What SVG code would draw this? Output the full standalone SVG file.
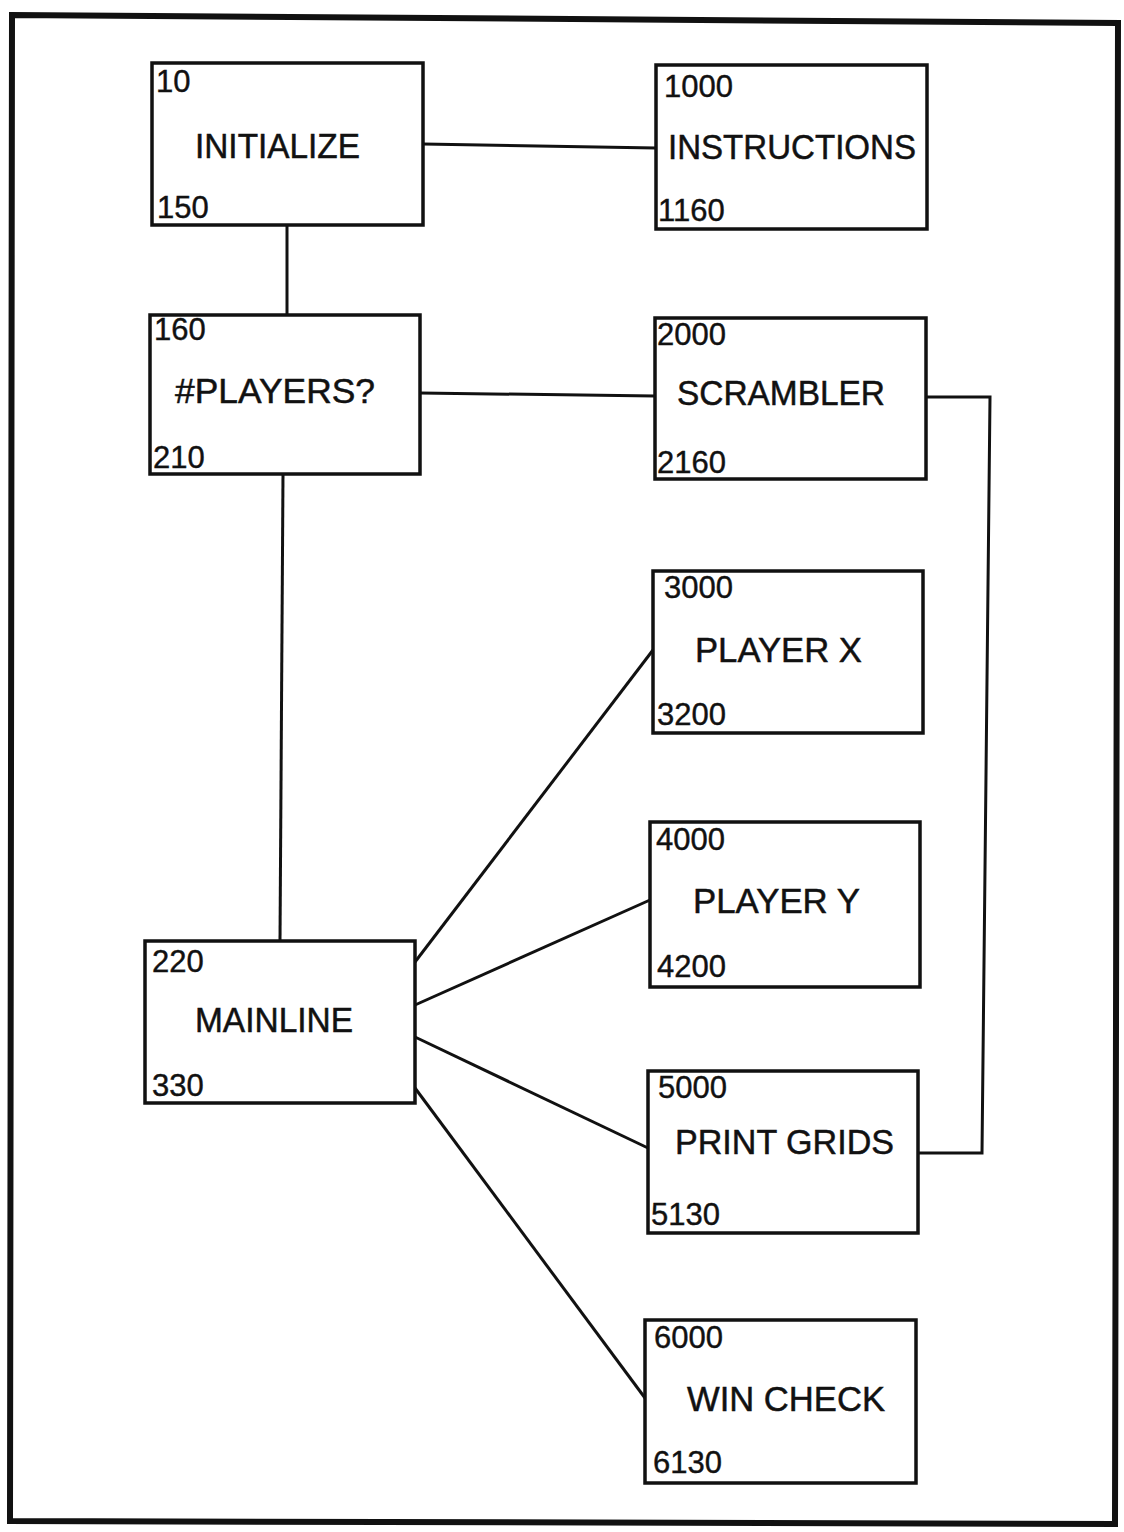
<svg xmlns="http://www.w3.org/2000/svg" width="1124" height="1532" viewBox="0 0 1124 1532">
<style>
.box{fill:#fff;stroke:#111;stroke-width:3.5}
.num{font-family:"Liberation Sans",Arial,sans-serif;font-size:31px;fill:#111;stroke:#111;stroke-width:0.4}
.lbl{font-family:"Liberation Sans",Arial,sans-serif;font-size:35px;fill:#111;stroke:#111;stroke-width:0.5}
.con{fill:none;stroke:#111;stroke-width:3}
</style>
<rect width="1124" height="1532" fill="#fff"/>
<polygon points="12,15 1118,23 1115,1524 10,1521" fill="none" stroke="#111" stroke-width="6"/>
<g id="connectors">
<line class="con" x1="423" y1="144" x2="656" y2="148"/>
<line class="con" x1="287" y1="225" x2="287" y2="315"/>
<line class="con" x1="420" y1="393" x2="655" y2="396"/>
<line class="con" x1="283" y1="474" x2="280" y2="941"/>
<polyline class="con" points="926,397 990,397 982,1153 918,1153"/>
<line class="con" x1="415" y1="962" x2="653" y2="650"/>
<line class="con" x1="415" y1="1005" x2="650" y2="900"/>
<line class="con" x1="415" y1="1037" x2="648" y2="1148"/>
<line class="con" x1="415" y1="1088" x2="645" y2="1398"/>
</g>
<g id="initialize">
<rect class="box" x="152" y="63" width="271" height="162"/>
<text class="num" x="156" y="92">10</text>
<text class="lbl" x="195" y="158" textLength="165" lengthAdjust="spacingAndGlyphs">INITIALIZE</text>
<text class="num" x="157" y="218">150</text>
</g>
<g id="instructions">
<rect class="box" x="656" y="65" width="271" height="164"/>
<text class="num" x="664" y="97">1000</text>
<text class="lbl" x="668" y="159" textLength="248" lengthAdjust="spacingAndGlyphs">INSTRUCTIONS</text>
<text class="num" x="658" y="221">1160</text>
</g>
<g id="players">
<rect class="box" x="150" y="315" width="270" height="159"/>
<text class="num" x="154" y="340">160</text>
<text class="lbl" x="175" y="403" textLength="200" lengthAdjust="spacingAndGlyphs">#PLAYERS?</text>
<text class="num" x="153" y="468">210</text>
</g>
<g id="scrambler">
<rect class="box" x="655" y="318" width="271" height="161"/>
<text class="num" x="657" y="345">2000</text>
<text class="lbl" x="677" y="405" textLength="208" lengthAdjust="spacingAndGlyphs">SCRAMBLER</text>
<text class="num" x="657" y="473">2160</text>
</g>
<g id="playerx">
<rect class="box" x="653" y="571" width="270" height="162"/>
<text class="num" x="664" y="598">3000</text>
<text class="lbl" x="695" y="662" textLength="167" lengthAdjust="spacingAndGlyphs">PLAYER X</text>
<text class="num" x="657" y="725">3200</text>
</g>
<g id="playery">
<rect class="box" x="650" y="822" width="270" height="165"/>
<text class="num" x="656" y="850">4000</text>
<text class="lbl" x="693" y="913" textLength="167" lengthAdjust="spacingAndGlyphs">PLAYER Y</text>
<text class="num" x="657" y="977">4200</text>
</g>
<g id="mainline">
<rect class="box" x="145" y="941" width="270" height="162"/>
<text class="num" x="152" y="972">220</text>
<text class="lbl" x="195" y="1032" textLength="158" lengthAdjust="spacingAndGlyphs">MAINLINE</text>
<text class="num" x="152" y="1096">330</text>
</g>
<g id="printgrids">
<rect class="box" x="648" y="1071" width="270" height="162"/>
<text class="num" x="658" y="1098">5000</text>
<text class="lbl" x="675" y="1154" textLength="219" lengthAdjust="spacingAndGlyphs">PRINT  GRIDS</text>
<text class="num" x="651" y="1225">5130</text>
</g>
<g id="wincheck">
<rect class="box" x="645" y="1320" width="271" height="163"/>
<text class="num" x="654" y="1348">6000</text>
<text class="lbl" x="687" y="1411" textLength="198" lengthAdjust="spacingAndGlyphs">WIN  CHECK</text>
<text class="num" x="653" y="1473">6130</text>
</g>
</svg>
